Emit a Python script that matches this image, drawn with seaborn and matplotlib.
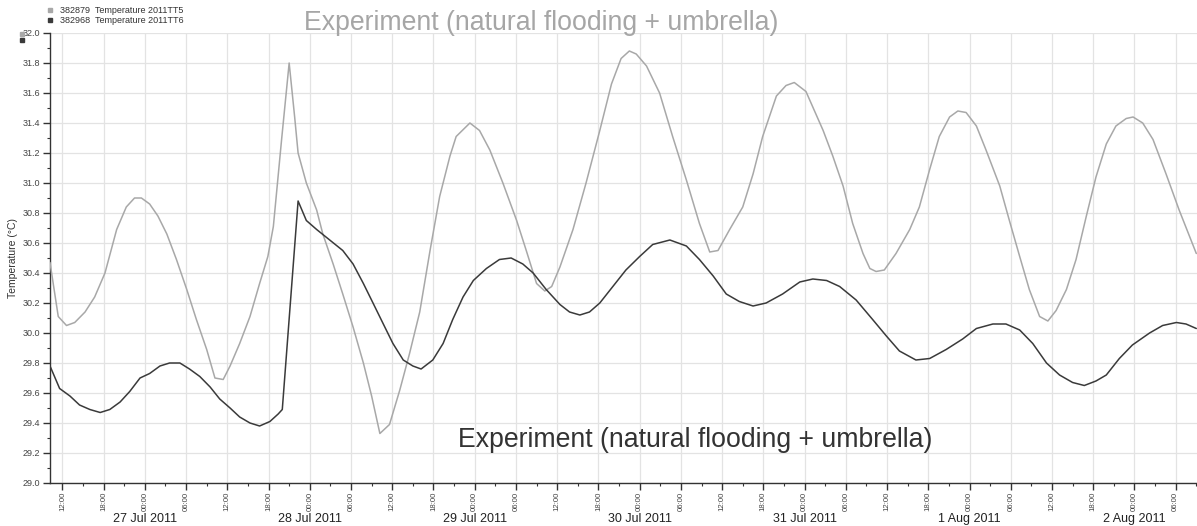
import numpy as np
import pandas as pd
import matplotlib
matplotlib.use("Agg")
import matplotlib.pyplot as plt
import matplotlib.dates as mdates
import matplotlib.transforms as mtransforms
from matplotlib.lines import Line2D
import seaborn as sns

# ---------------- data (hours since 2011-07-27 00:00, temperature °C) ----------------
tt5_hours = [-13.8, -12.6, -11.4, -10.2, -8.7, -7.3, -5.8, -4.1, -2.7, -1.5, -0.5, 0.7, 1.9, 3.2,
             4.6, 6.1, 7.5, 9.0, 10.2, 11.4, 12.4, 13.8, 15.3, 16.7, 17.9, 18.7, 19.9, 21.0, 21.8,
             22.3, 23.5, 25.0, 25.9, 27.4, 28.8, 30.3, 31.8, 33.0, 34.2, 35.6, 37.1, 38.5, 40.0,
             41.5, 42.9, 44.4, 45.3, 47.3, 48.7, 50.2, 52.1, 54.1, 55.5, 57.0, 58.2, 59.2, 60.4,
             62.3, 64.2, 66.2, 67.9, 69.3, 70.5, 71.5, 73.0, 74.9, 76.8, 78.8, 80.7, 82.2, 83.4,
             85.1, 87.0, 88.5, 89.9, 91.9, 93.3, 94.5, 96.2, 98.7, 100.1, 101.6, 103.0, 104.5,
             105.5, 106.4, 107.6, 109.3, 111.3, 112.7, 114.2, 115.6, 117.1, 118.3, 119.5, 121.0,
             122.4, 124.4, 125.8, 127.3, 128.7, 130.2, 131.4, 132.6, 134.1, 135.5, 137.0, 138.4,
             139.9, 141.3, 142.8, 143.8, 145.2, 146.7, 148.6, 150.5, 153.0]
tt5_values = [30.47, 30.11, 30.05, 30.07, 30.14, 30.24, 30.40, 30.69, 30.84, 30.90, 30.90, 30.86,
              30.78, 30.66, 30.49, 30.29, 30.09, 29.89, 29.70, 29.69, 29.78, 29.93, 30.11, 30.33,
              30.51, 30.71, 31.29, 31.80, 31.44, 31.20, 31.00, 30.82, 30.66, 30.46, 30.26, 30.04,
              29.80, 29.58, 29.33, 29.39, 29.62, 29.86, 30.14, 30.55, 30.91, 31.18, 31.31, 31.40,
              31.35, 31.22, 31.00, 30.75, 30.55, 30.33, 30.28, 30.31, 30.44, 30.69, 31.00, 31.35,
              31.66, 31.83, 31.88, 31.86, 31.78, 31.60, 31.31, 31.02, 30.73, 30.54, 30.55, 30.69,
              30.84, 31.06, 31.31, 31.58, 31.65, 31.67, 31.61, 31.35, 31.18, 30.98, 30.73, 30.53,
              30.43, 30.41, 30.42, 30.53, 30.69, 30.84, 31.09, 31.31, 31.44, 31.48, 31.47, 31.38,
              31.22, 30.98, 30.75, 30.51, 30.29, 30.11, 30.08, 30.15, 30.29, 30.49, 30.78, 31.04,
              31.26, 31.38, 31.43, 31.44, 31.40, 31.29, 31.06, 30.82, 30.53]

tt6_hours = [-13.8, -12.4, -10.9, -9.5, -8.0, -6.5, -5.1, -3.6, -2.2, -0.7, 0.7, 2.2, 3.6, 5.1,
             6.5, 8.0, 9.5, 10.9, 12.4, 13.8, 15.3, 16.7, 18.2, 19.4, 20.0, 22.3, 23.5, 25.0, 26.9,
             28.8, 30.3, 31.8, 33.2, 34.7, 36.1, 37.6, 39.0, 40.2, 41.9, 43.4, 44.8, 46.3, 47.8,
             49.7, 51.6, 53.3, 55.0, 56.5, 58.4, 60.4, 61.8, 63.3, 64.7, 66.2, 68.1, 70.0, 72.0,
             73.9, 76.4, 78.8, 80.7, 82.7, 84.6, 86.5, 88.5, 90.4, 92.8, 95.3, 97.2, 99.2, 101.1,
             103.5, 105.9, 107.9, 109.8, 112.2, 114.2, 116.6, 119.0, 121.0, 123.4, 125.3, 127.3,
             129.2, 131.2, 133.1, 135.0, 136.7, 138.4, 139.9, 141.8, 143.7, 146.2, 148.1, 150.1,
             151.5, 153.0]
tt6_values = [29.78, 29.63, 29.58, 29.52, 29.49, 29.47, 29.49, 29.54, 29.61, 29.70, 29.73, 29.78,
              29.80, 29.80, 29.76, 29.71, 29.64, 29.56, 29.50, 29.44, 29.40, 29.38, 29.41, 29.46,
              29.49, 30.88, 30.75, 30.69, 30.62, 30.55, 30.46, 30.33, 30.20, 30.06, 29.93, 29.82,
              29.78, 29.76, 29.82, 29.93, 30.09, 30.24, 30.35, 30.43, 30.49, 30.50, 30.46, 30.40,
              30.29, 30.19, 30.14, 30.12, 30.14, 30.20, 30.31, 30.42, 30.51, 30.59, 30.62, 30.58,
              30.49, 30.38, 30.26, 30.21, 30.18, 30.20, 30.26, 30.34, 30.36, 30.35, 30.31, 30.22,
              30.09, 29.98, 29.88, 29.82, 29.83, 29.89, 29.96, 30.03, 30.06, 30.06, 30.02, 29.93,
              29.80, 29.72, 29.67, 29.65, 29.68, 29.72, 29.83, 29.92, 30.00, 30.05, 30.07, 30.06,
              30.03]

series_labels = ["382879  Temperature 2011TT5", "382968  Temperature 2011TT6"]
series_colors = ["#a8a8a8", "#3a3a3a"]
date_labels = ["27 Jul 2011", "28 Jul 2011", "29 Jul 2011", "30 Jul 2011",
               "31 Jul 2011", "1 Aug 2011", "2 Aug 2011"]
date_days = ["2011-07-27", "2011-07-28", "2011-07-29", "2011-07-30",
             "2011-07-31", "2011-08-01", "2011-08-02"]
annotation = "Experiment (natural flooding + umbrella)"
y_label = "Temperature (°C)"

# ---------------- build ----------------
base = pd.Timestamp("2011-07-27 00:00")
df5 = pd.DataFrame({"time": base + pd.to_timedelta(tt5_hours, unit="h"), "temp": tt5_values})
df6 = pd.DataFrame({"time": base + pd.to_timedelta(tt6_hours, unit="h"), "temp": tt6_values})

sns.set_style("white")
plt.rcParams["font.family"] = ["Liberation Sans", "DejaVu Sans"]

fig = plt.figure(figsize=(11.97, 5.26), dpi=100)
ax = fig.add_axes([50 / 1197, 43 / 526, 1147 / 1197, 450 / 526])

sns.lineplot(data=df5, x="time", y="temp", ax=ax, color=series_colors[0], lw=1.1,
             estimator=None, sort=False, zorder=3)
sns.lineplot(data=df6, x="time", y="temp", ax=ax, color=series_colors[1], lw=1.1,
             estimator=None, sort=False, zorder=4)

ax.set_xlim(base + pd.Timedelta(hours=-13.8), base + pd.Timedelta(hours=153.1))
ax.set_ylim(29.0, 32.0)

ax.yaxis.set_major_locator(plt.MultipleLocator(0.2))
ax.yaxis.set_minor_locator(plt.MultipleLocator(0.1))
ax.yaxis.set_major_formatter(plt.FormatStrFormatter("%.1f"))
ax.xaxis.set_major_locator(mdates.HourLocator(byhour=[0, 6, 12, 18]))
ax.xaxis.set_minor_locator(mdates.HourLocator(byhour=[3, 9, 15, 21]))
ax.xaxis.set_major_formatter(mdates.DateFormatter("%H:%M"))

ax.grid(True, which="major", color="#e3e3e3", lw=0.9)
ax.set_axisbelow(True)
for s in ["top", "right"]:
    ax.spines[s].set_visible(False)
for s in ["left", "bottom"]:
    ax.spines[s].set_color("#333333")
    ax.spines[s].set_linewidth(1.0)

ax.tick_params(axis="y", which="major", direction="out", length=5, width=1,
               color="#333333", labelsize=6.5, labelcolor="#444444", pad=2, left=True)
ax.tick_params(axis="x", which="major", direction="out", length=5, width=1,
               color="#333333", labelsize=5.6, labelcolor="#444444", pad=1.5, bottom=True)
ax.tick_params(axis="both", which="minor", direction="out", length=2.5, width=0.8,
               color="#333333", left=True, bottom=True)
for lbl in ax.get_xticklabels():
    lbl.set_rotation(90)

ax.set_xlabel("")
ax.set_ylabel(y_label, fontsize=7.5, color="#333333", labelpad=3)

trans = mtransforms.blended_transform_factory(ax.transData, ax.transAxes)
for lab, day in zip(date_labels, date_days):
    ax.text(mdates.date2num(pd.Timestamp(day)), -0.081, lab, transform=trans,
            ha="center", va="center", fontsize=9, color="#222222")

# annotations
fig.text(541 / 1197, 1 - 23 / 526, annotation, ha="center", va="center",
         fontsize=19.2, color="#a6a6a6")
fig.text(695 / 1197, 1 - 440 / 526, annotation, ha="center", va="center",
         fontsize=19.2, color="#333333")

# legend
handles = [Line2D([], [], marker="s", ls="", color=c, markersize=3.5) for c in series_colors]
fig.legend(handles, series_labels, loc="upper left", bbox_to_anchor=(40 / 1197, 1 - 1 / 526),
           frameon=False, fontsize=6.5, handletextpad=0.6, labelspacing=0.05,
           borderpad=0.1, handlelength=1.0, labelcolor="#333333")

# series indicators near top of y axis
for c, yy in zip(series_colors, [34, 40]):
    fig.add_artist(Line2D([22 / 1197], [1 - yy / 526], marker="s", ls="", color=c,
                          markersize=3.5, transform=fig.transFigure))

fig.savefig("out.png", dpi=100)
